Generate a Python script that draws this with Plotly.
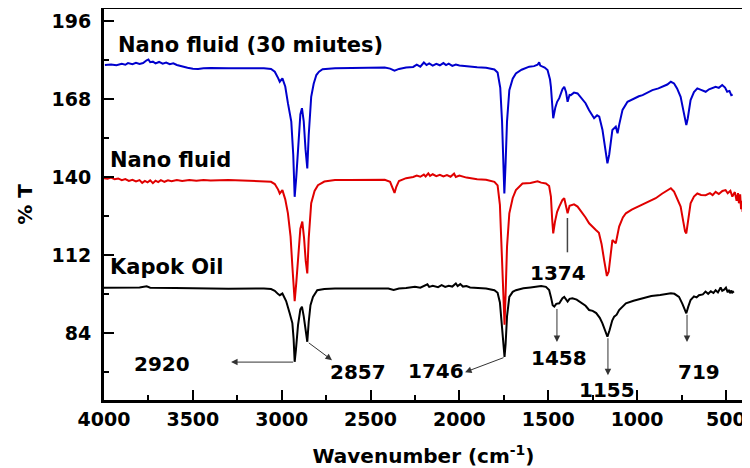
import plotly.graph_objects as go

# ---------------- data ----------------
wn_blue = [3995, 3960, 3930, 3900, 3880, 3865, 3840, 3820, 3800, 3780, 3760, 3750, 3740, 3725, 3710, 3690,
           3670, 3650, 3630, 3610, 3590, 3560, 3530, 3500, 3470, 3440, 3400, 3300, 3200, 3100, 3060, 3039,
           3020, 3011, 2996, 2980, 2965, 2950, 2946, 2935, 2927, 2918, 2905, 2895, 2886, 2876, 2866, 2856,
           2848, 2840, 2834, 2820, 2805, 2790, 2770, 2700, 2600, 2500, 2420, 2390, 2365, 2340, 2300, 2260,
           2240, 2220, 2200, 2185, 2170, 2150, 2130, 2110, 2090, 2075, 2060, 2040, 2020, 2000, 1960, 1900,
           1850, 1803, 1785, 1770, 1760, 1752, 1747, 1740, 1732, 1719, 1700, 1682, 1650, 1607, 1580, 1560,
           1551, 1545, 1520, 1504, 1490, 1485, 1478, 1472, 1460, 1450, 1438, 1420, 1410, 1400, 1391, 1380,
           1373, 1355, 1335, 1310, 1290, 1270, 1255, 1242, 1225, 1213, 1195, 1180, 1167, 1157, 1145, 1139,
           1120, 1110, 1100, 1082, 1054, 1020, 990, 969, 940, 914, 880, 857, 830, 810, 792, 775,
           755, 740, 728, 723, 715, 699, 680, 661, 640, 614, 595, 575, 558, 540, 521, 505,
           493, 480, 470, 462]
t_blue = [180.2, 180.4, 180.1, 180.6, 180.3, 180.9, 180.5, 181.0, 180.6, 180.9, 181.9, 182.2, 181.2, 181.4, 180.8, 181.3,
          180.7, 181.1, 180.5, 180.8, 180.2, 179.6, 179.2, 178.9, 178.8, 179.0, 179.1, 179.0, 179.1, 179.0, 178.8, 177.8,
          175.5, 174.2, 175.4, 172.5, 166.5, 161.5, 159.9, 148.0, 132.9, 140.0, 155.0, 162.5, 164.7, 160.0, 150.0, 143.1,
          155.0, 165.0, 168.8, 173.5, 176.6, 177.8, 178.7, 179.0, 179.1, 179.4, 179.3, 178.9, 178.2, 178.8, 179.3, 179.5,
          180.3, 179.6, 181.1, 180.2, 180.8, 180.0, 180.6, 180.1, 180.9, 180.2, 180.7, 179.9, 180.4, 180.0, 179.7, 179.4,
          179.2, 178.6, 177.5, 172.0, 160.0, 142.0, 134.1, 145.0, 160.0, 171.2, 175.3, 177.2, 178.5, 179.6, 179.8, 180.3,
          181.2, 180.0, 179.3, 178.4, 175.0, 172.4, 165.0, 161.1, 165.0, 167.0, 168.3, 171.5, 172.4, 170.5, 167.0, 169.5,
          169.4, 170.3, 170.0, 168.2, 166.5, 164.0, 162.5, 161.1, 162.2, 161.7, 157.0, 150.0, 144.9, 148.0, 155.0, 156.9,
          158.1, 155.7, 159.0, 164.1, 167.0, 168.2, 169.0, 169.4, 170.4, 171.2, 171.8, 172.4, 173.2, 174.2, 173.6, 171.8,
          168.8, 164.0, 159.5, 158.7, 161.0, 167.6, 170.5, 171.8, 171.3, 170.6, 171.5, 172.1, 172.4, 172.0, 173.0, 172.1,
          170.6, 170.9, 169.4, 169.6]

wn_red = [4000, 3980, 3960, 3940, 3920, 3900, 3880, 3860, 3840, 3820, 3800, 3785, 3770, 3755, 3740, 3725,
          3710, 3695, 3680, 3660, 3640, 3620, 3590, 3560, 3520, 3480, 3440, 3400, 3300, 3200, 3124, 3060,
          3039, 3020, 3011, 2996, 2980, 2965, 2950, 2940, 2927, 2918, 2905, 2895, 2884, 2874, 2865, 2856,
          2848, 2840, 2834, 2815, 2796, 2760, 2700, 2618, 2550, 2480, 2420, 2390, 2375, 2365, 2355, 2340,
          2300, 2260, 2240, 2220, 2200, 2190, 2175, 2165, 2150, 2130, 2110, 2090, 2070, 2050, 2030, 2020,
          2000, 1960, 1900, 1850, 1803, 1785, 1772, 1762, 1752, 1746, 1740, 1732, 1719, 1700, 1682, 1645,
          1600, 1560, 1540, 1513, 1495, 1485, 1478, 1472, 1462, 1450, 1438, 1420, 1410, 1400, 1391, 1380,
          1373, 1355, 1335, 1310, 1290, 1270, 1250, 1232, 1215, 1200, 1185, 1170, 1160, 1150, 1139, 1120,
          1101, 1080, 1063, 1030, 1000, 969, 930, 895, 860, 830, 810, 792, 775, 755, 740, 730,
          723, 715, 699, 680, 661, 640, 614, 590, 575, 558, 540, 520, 502, 490, 475, 464,
          450, 440, 432, 427, 420, 415, 410, 406]
t_red = [139.6, 139.4, 139.8, 139.2, 139.5, 138.9, 139.3, 138.6, 139.0, 138.4, 138.9, 137.9, 138.6, 138.1, 138.8, 137.8,
         138.7, 138.2, 138.9, 138.3, 138.8, 138.5, 138.9, 138.6, 138.9, 138.7, 138.9, 138.8, 138.9, 138.8, 138.5, 138.3,
         137.5, 135.5, 134.1, 135.3, 132.0, 127.0, 118.6, 108.0, 95.5, 102.0, 115.0, 121.5, 124.0, 118.0, 110.0, 105.4,
         118.0, 127.0, 130.6, 135.0, 137.1, 138.4, 138.9, 138.9, 139.0, 139.0, 139.0, 138.3, 135.5, 134.3, 136.5, 138.6,
         139.6, 140.0, 140.5, 140.1, 140.9, 140.2, 141.3, 140.4, 141.0, 140.3, 140.8, 140.2, 140.7, 140.1, 141.2, 140.0,
         140.5, 139.8, 139.2, 139.0, 138.3, 137.0, 130.0, 115.0, 95.0, 87.0, 98.0, 115.0, 127.0, 132.5, 135.3, 137.7,
         137.9, 138.5, 138.0, 137.7, 136.8, 133.0, 125.0, 119.8, 124.0, 127.5, 129.4, 131.8, 132.4, 130.0, 127.0, 129.7,
         129.9, 130.2, 129.4, 127.3, 125.5, 123.4, 122.0, 121.0, 120.0, 116.0, 110.0, 104.5, 106.0, 112.0, 117.4, 116.2,
         122.2, 125.5, 127.0, 128.3, 129.2, 130.0, 131.3, 132.4, 134.0, 135.2, 136.0, 134.8, 132.5, 129.4, 124.0, 120.5,
         119.8, 123.0, 130.6, 133.0, 134.1, 133.6, 133.5, 134.2, 133.5, 134.7, 133.9, 135.0, 135.3, 134.2, 135.1, 133.0,
         134.6, 131.5, 134.2, 130.6, 133.8, 128.5, 131.5, 127.5]

wn_black = [4000, 3900, 3800, 3760, 3740, 3600, 3500, 3400, 3300, 3200, 3100, 3060, 3039, 3020, 3011, 2996,
            2975, 2955, 2940, 2933, 2927, 2920, 2908, 2895, 2886, 2876, 2866, 2856, 2848, 2838, 2824, 2800,
            2760, 2700, 2600, 2500, 2400, 2370, 2340, 2300, 2250, 2220, 2200, 2180, 2170, 2150, 2120, 2100,
            2080, 2060, 2040, 2020, 2010, 1995, 1980, 1960, 1940, 1900, 1850, 1803, 1785, 1772, 1762, 1752,
            1746, 1740, 1732, 1719, 1700, 1682, 1640, 1600, 1560, 1540, 1513, 1495, 1485, 1475, 1466, 1455,
            1438, 1420, 1410, 1400, 1391, 1380, 1364, 1340, 1310, 1290, 1270, 1250, 1230, 1210, 1195, 1180,
            1167, 1155, 1140, 1129, 1115, 1101, 1080, 1063, 1020, 969, 920, 870, 830, 810, 790, 764,
            745, 730, 723, 712, 699, 680, 665, 652, 630, 615, 600, 585, 570, 558, 545, 530,
            521, 510, 500, 490, 483, 475, 470, 464, 455]
t_black = [100.3, 100.3, 100.4, 100.8, 100.3, 100.2, 100.0, 100.0, 99.9, 100.0, 100.0, 99.8, 99.2, 98.0, 97.6, 98.2,
           95.5, 91.1, 87.6, 82.0, 73.7, 78.0, 87.0, 92.5, 93.5, 90.0, 85.0, 80.9, 88.0, 94.0, 97.0, 99.4,
           99.8, 100.0, 100.0, 100.1, 100.0, 99.5, 100.0, 100.2, 100.6, 100.3, 100.8, 101.5, 100.6, 101.0, 100.5, 101.2,
           100.6, 101.0, 100.7, 101.8, 100.9, 101.6, 100.7, 100.9, 100.4, 100.3, 100.0, 99.4, 98.5, 95.0, 88.0, 79.0,
           75.5, 80.0, 90.0, 97.0, 98.8, 99.4, 100.1, 100.4, 100.8, 100.9, 100.6, 99.5, 97.0, 94.0, 93.5, 94.5,
           94.7, 96.5, 97.0, 96.2, 95.3, 96.3, 96.5, 96.0, 94.5, 93.8, 92.3, 92.0, 91.2, 89.5, 87.5, 85.0,
           82.7, 85.0, 88.5, 89.9, 90.6, 92.3, 93.8, 94.7, 95.6, 96.5, 97.3, 97.7, 98.0, 98.3, 98.1, 97.0,
           94.5, 91.8, 91.1, 93.5, 95.9, 97.2, 96.8, 97.6, 97.9, 98.9, 98.1, 99.0, 98.4, 99.4, 98.6, 100.4,
           99.2, 99.6, 100.3, 98.6, 99.5, 98.3, 99.3, 98.6, 99.0]

series_names = ["Nano fluid (30 miutes)", "Nano fluid", "Kapok Oil"]
series_colors = ["#0000CD", "#E00000", "#000000"]

x_ticks = [4000, 3500, 3000, 2500, 2000, 1500, 1000, 500]
y_ticks = [84, 112, 140, 168, 196]

# peak labels: (label, text x, text y)
peak_labels = ["2920", "2857", "1746", "1458", "1155", "719", "1374"]
peak_text_x = [3674, 2573, 2134, 1442, 1167, 652, 1445]
peak_text_y = [73.0, 70.2, 70.4, 75.0, 63.5, 70.0, 105.5]

FONT = "DejaVu Sans"

fig = go.Figure()
# draw order: black, red, blue
fig.add_trace(go.Scatter(x=wn_black, y=t_black, mode="lines", name=series_names[2],
                         line=dict(color=series_colors[2], width=2)))
fig.add_trace(go.Scatter(x=wn_red, y=t_red, mode="lines", name=series_names[1],
                         line=dict(color=series_colors[1], width=2)))
fig.add_trace(go.Scatter(x=wn_blue, y=t_blue, mode="lines", name=series_names[0],
                         line=dict(color=series_colors[0], width=2)))

# series labels
label_pos = [(3935, 187.4), (3978, 146.1), (3978, 107.7)]
for name, (lx, ly) in zip(series_names, label_pos):
    fig.add_annotation(x=lx, y=ly, xref="x", yref="y", text=name, showarrow=False,
                       xanchor="left", yanchor="middle",
                       font=dict(family=FONT, size=21, color="black", weight="bold"))

# peak number labels
for lab, px, py in zip(peak_labels, peak_text_x, peak_text_y):
    fig.add_annotation(x=px, y=py, xref="x", yref="y", text=lab, showarrow=False,
                       xanchor="center", yanchor="middle",
                       font=dict(family=FONT, size=20, color="black", weight="bold"))

# arrows: (tail x, tail y, tip x, tip y)
arrows = [(2927, 73.6, 3285, 73.6),
          (2856, 80.9, 2717, 74.3),
          (1743, 75.4, 1968, 70.0),
          (1451, 93.2, 1451, 80.8),
          (1164, 82.7, 1164, 68.9),
          (719, 91.1, 719, 80.8)]
for ax_, ay_, tx, ty in arrows:
    fig.add_annotation(x=tx, y=ty, ax=ax_, ay=ay_, xref="x", yref="y", axref="x", ayref="y",
                       text="", showarrow=True, arrowhead=2, arrowsize=1.3, arrowwidth=1,
                       arrowcolor="#333333")

# 1374 marker line
fig.add_shape(type="line", xref="x", yref="y", x0=1392, x1=1392, y0=113.0, y1=125.3,
              line=dict(color="#444444", width=1.5))

axis_common = dict(showline=True, linecolor="black", linewidth=3, mirror=True,
                   ticks="inside", tickcolor="black", tickwidth=2, ticklen=10,
                   showgrid=False, zeroline=False, automargin=False,
                   tickfont=dict(family=FONT, size=19, color="black", weight="bold"))

fig.update_xaxes(range=[4000, 404], tickvals=x_ticks, ticktext=[str(v) for v in x_ticks],
                 minor=dict(ticks="inside", ticklen=5, tickwidth=2, tickcolor="black", dtick=250, tick0=0),
                 title=dict(text="Wavenumber (cm<sup>-1</sup>)", standoff=21,
                            font=dict(family=FONT, size=20, color="black", weight="bold")),
                 **axis_common)
fig.update_yaxes(range=[60, 200.3], tickvals=y_ticks, ticktext=[str(v) for v in y_ticks],
                 minor=dict(ticks="inside", ticklen=5, tickwidth=2, tickcolor="black", dtick=14, tick0=0),
                 title=dict(text="% T", standoff=14,
                            font=dict(family=FONT, size=20, color="black", weight="bold")),
                 ticklabelstandoff=6,
                 **axis_common)

# the page body adds an 8px offset, so the figure is sized to fill the rest of the window
fig.update_layout(width=742, height=460, margin=dict(l=96, r=7, t=1, b=68),
                  plot_bgcolor="white", paper_bgcolor="white", showlegend=False)

fig.write_html("out.html")
